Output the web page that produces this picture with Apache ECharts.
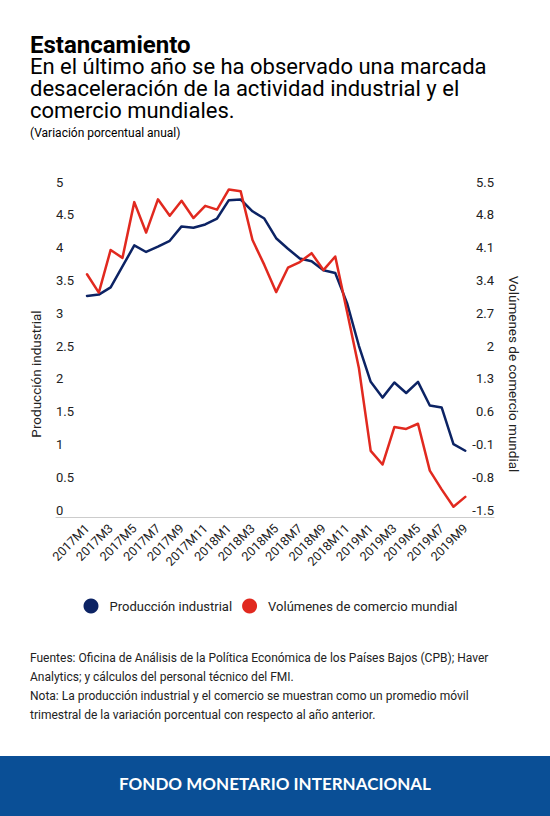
<!DOCTYPE html>
<html>
<head>
<meta charset="utf-8">
<script src="https://cdn.jsdelivr.net/npm/echarts@6/dist/echarts.min.js"></script>
<style>
html,body{margin:0;padding:0;background:#fff;}
#chart{width:550px;height:816px;}
</style>
</head>
<body>
<div id="chart"></div>
<script>
// ---- data ----
const categories = [
  '2017M1','2017M2','2017M3','2017M4','2017M5','2017M6','2017M7','2017M8','2017M9','2017M10','2017M11','2017M12',
  '2018M1','2018M2','2018M3','2018M4','2018M5','2018M6','2018M7','2018M8','2018M9','2018M10','2018M11','2018M12',
  '2019M1','2019M2','2019M3','2019M4','2019M5','2019M6','2019M7','2019M8','2019M9'
];
const industrialProduction = [
  3.37, 3.39, 3.50, 3.82, 4.14, 4.04, 4.12, 4.21, 4.43, 4.41, 4.46, 4.55,
  4.83, 4.84, 4.66, 4.55, 4.25, 4.09, 3.94, 3.90, 3.76, 3.72, 3.26, 2.61,
  2.06, 1.82, 2.05, 1.89, 2.06, 1.70, 1.67, 1.11, 1.01
];
const tradeVolumes = [
  3.68, 3.29, 4.20, 4.03, 5.22, 4.57, 5.28, 4.93, 5.25, 4.88, 5.14, 5.06,
  5.49, 5.45, 4.41, 3.88, 3.30, 3.82, 3.94, 4.13, 3.77, 4.06, 2.88, 1.68,
  -0.09, -0.38, 0.42, 0.38, 0.49, -0.51, -0.91, -1.28, -1.07
];
const xTickLabels = [
  '2017M1','2017M3','2017M5','2017M7','2017M9','2017M11',
  '2018M1','2018M3','2018M5','2018M7','2018M9','2018M11',
  '2019M1','2019M3','2019M5','2019M7','2019M9'
];
const leftAxisMin = 0, leftAxisMax = 5, leftAxisStep = 0.5;
const rightAxisMin = -1.5, rightAxisMax = 5.5, rightAxisStep = 0.7;
const seriesNames = ['Producción industrial', 'Volúmenes de comercio mundial'];

const titleText = 'Estancamiento';
const subtitleText = 'En el último año se ha observado una marcada\ndesaceleración de la actividad industrial y el\ncomercio mundiales.';
const unitText = '(Variación porcentual anual)';
const notesText = 'Fuentes: Oficina de Análisis de la Política Económica de los Países Bajos (CPB); Haver\nAnalytics; y cálculos del personal técnico del FMI.\nNota: La producción industrial y el comercio se muestran como un promedio móvil\ntrimestral de la variación porcentual con respecto al año anterior.';
const brandText = 'FONDO MONETARIO INTERNACIONAL';

// ---- chart ----
const FONT = 'Roboto';
const BLUE = '#0c2364';
const RED = '#e1291f';
const TEXT = '#222';

const chart = echarts.init(document.getElementById('chart'), null, {renderer: 'svg'});

const fmt = v => String(+v.toFixed(1));

const option = {
  backgroundColor: '#fff',
  animation: false,
  title: [
    {text: titleText, left: 30, top: 35, padding: 0,
     textStyle: {fontFamily: FONT, fontSize: 24, fontWeight: 'bold', color: '#000', lineHeight: 20}},
    {text: subtitleText, left: 30, top: 55, padding: 0,
     textStyle: {fontFamily: FONT, fontSize: 22, fontWeight: 'normal', color: '#000', lineHeight: 22}},
    {text: unitText, left: 30, top: 127, padding: 0,
     textStyle: {fontFamily: FONT, fontSize: 12, fontWeight: 'normal', color: '#000', lineHeight: 12}}
  ],
  legend: {
    left: 83.5, top: 598.5, padding: 0,
    icon: 'circle', itemWidth: 15, itemHeight: 15, itemGap: 10,
    data: seriesNames,
    textStyle: {fontFamily: FONT, fontSize: 13, color: TEXT, padding: [0, 0, 0, 6]}
  },
  grid: {left: 56, right: 56, top: 189, bottom: 299, containLabel: false},
  xAxis: {
    type: 'value',
    min: -2.623, max: 34.43,
    splitLine: {show: false},
    axisTick: {show: false},
    axisLine: {show: true, onZero: false, lineStyle: {color: '#cccccc', width: 1}},
    axisLabel: {
      customValues: xTickLabels.map(l => categories.indexOf(l)),
      formatter: v => categories[Math.round(v)] || '',
      rotate: 45, margin: 9,
      fontFamily: FONT, fontSize: 12.5, color: TEXT
    }
  },
  yAxis: [
    {
      type: 'value', position: 'left',
      min: leftAxisMin, max: leftAxisMax, interval: leftAxisStep,
      splitLine: {show: false}, axisTick: {show: false}, axisLine: {show: false},
      axisLabel: {inside: true, margin: 0, formatter: fmt, fontFamily: FONT, fontSize: 13, color: TEXT,
                  verticalAlign: 'bottom', lineHeight: 14},
      name: seriesNames[0], nameLocation: 'middle', nameRotate: 90, nameGap: 13,
      nameTextStyle: {fontFamily: FONT, fontSize: 13.5, color: TEXT, padding: [0, 42, 0, 0]}
    },
    {
      type: 'value', position: 'right',
      min: rightAxisMin, max: rightAxisMax, interval: rightAxisStep,
      splitLine: {show: false}, axisTick: {show: false}, axisLine: {show: false},
      axisLabel: {inside: true, margin: 0, formatter: fmt, fontFamily: FONT, fontSize: 13, color: TEXT,
                  verticalAlign: 'bottom', lineHeight: 14},
      name: seriesNames[1], nameLocation: 'middle', nameRotate: -90, nameGap: 13,
      nameTextStyle: {fontFamily: FONT, fontSize: 13.5, color: TEXT, padding: [0, 0, 0, 42]}
    }
  ],
  series: [
    {
      name: seriesNames[0], type: 'line', yAxisIndex: 0,
      data: industrialProduction.map((v, i) => [i, v]),
      showSymbol: false, symbol: 'circle', clip: false,
      itemStyle: {color: BLUE},
      lineStyle: {color: BLUE, width: 2.5, join: 'round', cap: 'round'}
    },
    {
      name: seriesNames[1], type: 'line', yAxisIndex: 1,
      data: tradeVolumes.map((v, i) => [i, v]),
      showSymbol: false, symbol: 'circle', clip: false,
      itemStyle: {color: RED},
      lineStyle: {color: RED, width: 2.5, join: 'round', cap: 'round'}
    }
  ],
  graphic: [
    {type: 'text', left: 30, top: 648.5,
     style: {text: notesText, fontFamily: FONT, fontSize: 12, lineHeight: 19, fill: TEXT}},
    {type: 'rect', left: 0, top: 756, shape: {width: 550, height: 60}, style: {fill: '#0a4f96'}},
    {type: 'text', left: 'center', top: 774.5,
     style: {text: brandText, fontFamily: 'Lato', fontWeight: 'bold', fontSize: 17, fill: '#fff', lineHeight: 17}}
  ]
};
chart.setOption(option);
</script>
</body>
</html>
